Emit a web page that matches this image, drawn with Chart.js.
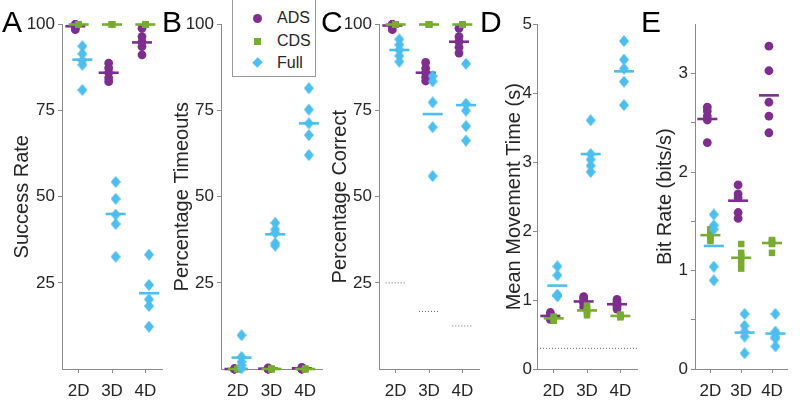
<!DOCTYPE html>
<html>
<head>
<meta charset="utf-8">
<script src="https://cdn.jsdelivr.net/npm/chart.js@4.4.0/dist/chart.umd.min.js"></script>
<style>
body{margin:0;background:#fff;font-family:"Liberation Sans",Arial,sans-serif;}
#wrap{position:relative;width:800px;height:400px;overflow:hidden;}
#wrap canvas{position:absolute;left:0;top:0;}
.letter{position:absolute;font-size:30px;line-height:30px;color:#000;top:7px;}
#legend{position:absolute;left:232px;top:-2px;width:82px;height:77px;border:1px solid #999;background:#fff;z-index:5;}
.row{position:absolute;left:0;width:82px;height:20px;font-size:16px;line-height:20px;color:#262626;}
.row span{position:absolute;left:44px;}
.mk{position:absolute;}
</style>
</head>
<body>
<div id="wrap">
  <canvas id="pA" width="800" height="400"></canvas>
  <canvas id="pB" width="800" height="400"></canvas>
  <canvas id="pC" width="800" height="400"></canvas>
  <canvas id="pD" width="800" height="400"></canvas>
  <canvas id="pE" width="800" height="400"></canvas>
  <div class="letter" style="left:2px">A</div>
  <div class="letter" style="left:162px">B</div>
  <div class="letter" style="left:321px">C</div>
  <div class="letter" style="left:480px">D</div>
  <div class="letter" style="left:641px">E</div>
  <div id="legend">
    <div class="row" style="top:9px"><div class="mk" style="left:20px;top:6px;width:9px;height:9px;border-radius:50%;background:#7E2F8E"></div><span>ADS</span></div>
    <div class="row" style="top:32px"><div class="mk" style="left:21px;top:7px;width:7px;height:7px;background:#77AC30"></div><span>CDS</span></div>
    <div class="row" style="top:54px"><div class="mk" style="left:21px;top:6px;width:7px;height:7px;background:#4DBEEE;transform:rotate(45deg) scale(1,1.1)"></div><span>Full</span></div>
  </div>
</div>
<script>
// conditions and groups
const categories = ['2D', '3D', '4D'];
const groupNames = ['ADS', 'CDS', 'Full'];
const groupColors = ['#7E2F8E', '#77AC30', '#4DBEEE'];

// A: success rate (5 sessions per condition)
const successADS = [[100, 100, 99.5, 99, 98.5], [88.8, 87.4, 86, 84.5, 83.4], [98.9, 96.5, 95, 93.6, 91.2]];
const successCDS = [[100, 100, 100, 100, 100], [100, 100, 100, 100, 100], [100, 100, 100, 100, 100]];
const successFull = [[93.7, 91.5, 89.5, 88.3, 81], [54.3, 49.4, 44.8, 42.1, 32.6], [33.2, 24.4, 20.2, 18.3, 12.3]];
const successMeans = [[99.5, 86, 94.8], [100, 100, 100], [89.8, 45, 22]];

// B: percentage timeouts
const timeoutADS = [[0, 0, 0, 0, 0], [0, 0, 0.3, 0, 0], [0, 0.5, 0, 0, 0]];
const timeoutCDS = [[0, 0, 0, 0, 0], [0, 0, 0, 0, 0], [0, 0, 0, 0, 0]];
const timeoutFull = [[9.8, 3.5, 2.1, 1.1, 0.2], [42.4, 40.5, 39.5, 36.5, 35.8], [81.5, 75.3, 71.3, 67.9, 62.1]];
const timeoutMeans = [[0, 0.1, 0.2], [0, 0, 0], [3.3, 39.1, 71.3]];

// C: percentage correct, with chance level per condition
const correctADS = [[100, 100, 100, 99.5, 98.5], [89, 87.3, 86, 84.7, 83.6], [98.9, 96.5, 95, 93.4, 91.7]];
const correctCDS = [[100, 100, 100, 100, 100], [100, 100, 100, 100, 100], [100, 100, 100, 100, 100]];
const correctFull = [[95.7, 94.1, 92.6, 90.9, 89.2], [85, 83.5, 77.4, 70.2, 56], [88.6, 77, 75, 70.5, 66.3]];
const correctMeans = [[99.7, 86, 95], [100, 100, 100], [92.6, 74, 76.6]];
const chanceLevel = [25, 16.7, 12.5];

// D: mean movement time (s)
const timeADS = [[0.82, 0.79, 0.77, 0.75, 0.72], [1.05, 1.02, 0.98, 0.95, 0.9], [1.01, 0.97, 0.94, 0.91, 0.87]];
const timeCDS = [[0.76, 0.74, 0.73, 0.72, 0.7], [0.92, 0.88, 0.85, 0.82, 0.78], [0.79, 0.78, 0.77, 0.76, 0.75]];
const timeFull = [[1.49, 1.36, 1.08, 1.06, 1.06], [3.61, 3.12, 3.04, 2.95, 2.86], [4.76, 4.49, 4.36, 4.17, 3.83]];
const timeMeans = [[0.77, 0.98, 0.94], [0.735, 0.85, 0.77], [1.21, 3.12, 4.32]];
const timeFloor = 0.3;

// E: bit rate (bits/s)
const bitADS = [[2.66, 2.62, 2.57, 2.53, 2.3], [1.87, 1.78, 1.74, 1.59, 1.53], [3.28, 3.03, 2.71, 2.57, 2.4]];
const bitCDS = [[1.42, 1.39, 1.36, 1.33, 1.3], [1.27, 1.18, 1.14, 1.08, 1.02], [1.31, 1.3, 1.28, 1.27, 1.18]];
const bitFull = [[1.57, 1.46, 1.42, 1.04, 0.9], [0.56, 0.44, 0.38, 0.33, 0.16], [0.56, 0.38, 0.33, 0.31, 0.23]];
const bitMeans = [[2.54, 1.71, 2.78], [1.36, 1.13, 1.28], [1.25, 0.37, 0.36]];

const pctTicks = [25, 50, 75, 100];
const timeTicks = [0, 1, 2, 3, 4, 5];
const bitTicks = [0, 0.5, 1, 1.5, 2, 2.5, 3];

const FONT = '"Liberation Sans", Arial, sans-serif';
const TXT = '#262626';
const AXIS = '#8c8c8c';
const offsets = [-0.1, 0, 0.11];

function diamond(w, h, color) {
  const c = document.createElement('canvas');
  c.width = w; c.height = h;
  const g = c.getContext('2d');
  g.fillStyle = color;
  g.beginPath();
  g.moveTo(w / 2, 0); g.lineTo(w, h / 2); g.lineTo(w / 2, h); g.lineTo(0, h / 2);
  g.closePath(); g.fill();
  return c;
}
const fullMarker = diamond(10, 12, groupColors[2]);

function pts(vals, off) {
  const out = [];
  vals.forEach((arr, i) => arr.forEach(v => out.push({x: i + 1 + off, y: v})));
  return out;
}

function groupSets(series, means) {
  const sets = [];
  const styles = [
    {pointStyle: 'circle', pointRadius: 4.4},
    {pointStyle: 'rect', pointRadius: 4.6},
    {pointStyle: fullMarker, pointRadius: 6}
  ];
  series.forEach((vals, g) => {
    sets.push(Object.assign({
      data: pts(vals, offsets[g]),
      backgroundColor: groupColors[g], borderColor: groupColors[g], borderWidth: 0,
      showLine: false, clip: false, order: 5 - 2 * g
    }, styles[g]));
    sets.push({
      data: means[g].map((m, i) => ({x: i + 1 + offsets[g], y: m})),
      pointStyle: 'line', pointRadius: 10, borderWidth: 2.6,
      borderColor: groupColors[g], backgroundColor: groupColors[g],
      showLine: false, clip: false, order: 4 - 2 * g
    });
  });
  return sets;
}

function chanceSet(levels) {
  const data = [];
  levels.forEach((v, i) => {
    data.push({x: i + 0.7, y: v}, {x: i + 1.3, y: v}, {x: i + 1.5, y: null});
  });
  return {data, showLine: true, spanGaps: false, borderColor: '#666', borderWidth: 1,
          borderDash: [1, 2], pointRadius: 0, clip: false, order: 10};
}

function makePanel(id, left, right, titleX, yTitle, yMin, yMax, yTicks, labelFn, datasets, tickPad) {
  const padLeft = titleX - 12;
  new Chart(document.getElementById(id), {
    type: 'scatter',
    data: {datasets},
    options: {
      responsive: false, animation: false,
      layout: {padding: {left: padLeft, right: 800 - right, top: 24.5, bottom: 0}},
      plugins: {legend: {display: false}, tooltip: {enabled: false}},
      scales: {
        x: {
          type: 'linear', min: 0.5, max: 3.5,
          afterBuildTicks: s => { s.ticks = categories.map((c, i) => ({value: i + 1})); },
          afterFit: s => { s.height = 31; },
          grid: {drawOnChartArea: false, tickLength: 4, color: AXIS},
          border: {color: AXIS},
          ticks: {color: TXT, font: {family: FONT, size: 17}, padding: 8, maxRotation: 0,
                  callback: (v, i) => categories[i]}
        },
        y: {
          type: 'linear', min: yMin, max: yMax,
          afterBuildTicks: s => { s.ticks = yTicks.map(v => ({value: v})); },
          afterFit: s => { s.width = left - padLeft; },
          grid: {drawOnChartArea: false, tickLength: 4, color: AXIS},
          border: {color: AXIS},
          ticks: {color: TXT, font: {family: FONT, size: 17}, padding: tickPad, callback: labelFn},
          title: {display: true, text: yTitle, color: TXT, padding: 0, font: {family: FONT, size: 20}}
        }
      }
    }
  });
}

const plain = v => String(v);
const wholeOnly = v => (Number.isInteger(v) ? String(v) : '');

makePanel('pA', 62, 162, 22.5, 'Success Rate', 0, 100, pctTicks, plain,
  groupSets([successADS, successCDS, successFull], successMeans), 3);
makePanel('pB', 221, 322, 182, 'Percentage Timeouts', 0, 100, pctTicks, plain,
  groupSets([timeoutADS, timeoutCDS, timeoutFull], timeoutMeans), 3);
makePanel('pC', 379, 479, 340, 'Percentage Correct', 0, 100, pctTicks, plain,
  groupSets([correctADS, correctCDS, correctFull], correctMeans).concat([chanceSet(chanceLevel)]), 3);
makePanel('pD', 537, 637, 514, 'Mean Movement Time (s)', 0, 5, timeTicks, plain,
  groupSets([timeADS, timeCDS, timeFull], timeMeans).concat([{
    data: [{x: 0.5, y: timeFloor}, {x: 3.5, y: timeFloor}], showLine: true,
    borderColor: '#666', borderWidth: 1, borderDash: [1, 2], pointRadius: 0, clip: false, order: 10
  }]), 1);
makePanel('pE', 695, 795, 665, 'Bit Rate (bits/s)', 0, 3.5, bitTicks, wholeOnly,
  groupSets([bitADS, bitCDS, bitFull], bitMeans), 3);
</script>
</body>
</html>
